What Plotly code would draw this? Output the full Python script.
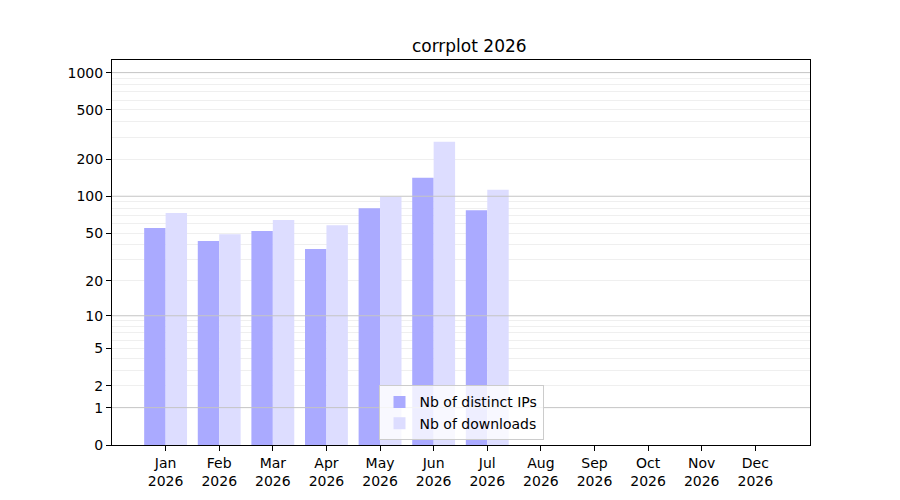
import numpy as np
import plotly.graph_objects as go

months = ["Jan", "Feb", "Mar", "Apr", "May", "Jun", "Jul", "Aug", "Sep", "Oct", "Nov", "Dec"]
year = "2026"
distinct_ips = [55, 43, 52, 37, 80, 141, 77]
downloads = [73, 49, 64, 58, 99, 276, 113]

# y axis is a log(1+x) scale
major_ticks = [0, 1, 2, 5, 10, 20, 50, 100, 200, 500, 1000]
dark_grid = [1, 10, 100, 1000]
light_grid = [2, 3, 4, 5, 6, 7, 8, 9, 20, 30, 40, 50, 60, 70, 80, 90,
              200, 300, 400, 500, 600, 700, 800, 900]


def tr(v):
    return np.log10(1 + np.asarray(v, dtype=float))


fig = go.Figure()
fig.add_trace(go.Bar(
    x=list(range(len(distinct_ips))),
    y=tr(distinct_ips),
    width=0.4, offset=-0.4,
    name="Nb of distinct IPs",
    marker=dict(color="#aaaaff", line=dict(width=0)),
))
fig.add_trace(go.Bar(
    x=list(range(len(downloads))),
    y=tr(downloads),
    width=0.4, offset=0,
    name="Nb of downloads",
    marker=dict(color="#ddddff", line=dict(width=0)),
))

for v in dark_grid:
    fig.add_hline(y=float(tr(v)), line=dict(color="#c4c4c4", width=1), layer="above")

fig.update_layout(
    width=900, height=500,
    margin=dict(l=104, r=98, t=52, b=63),
    paper_bgcolor="white", plot_bgcolor="white",
    font=dict(family="DejaVu Sans", size=14, color="black"),
    title=dict(text="corrplot " + year, x=0.5125, xanchor="center", y=0.924, yanchor="middle",
               font=dict(size=17)),
    barmode="overlay",
    showlegend=True,
    legend=dict(x=0.5, xanchor="center", y=0.012, yanchor="bottom",
                bgcolor="rgba(255,255,255,0.8)", bordercolor="#cccccc", borderwidth=1,
                font=dict(size=14), tracegroupgap=0, itemwidth=30),
    xaxis=dict(
        range=[-1.0, 12.02],
        tickvals=list(range(len(months))),
        ticktext=[m + "<br>" + year for m in months],
        ticks="outside", ticklen=5, tickcolor="black",
        showgrid=False, zeroline=False,
        showline=True, linecolor="black", linewidth=1, mirror=True,
    ),
    yaxis=dict(
        range=[0, 3.102],
        tickvals=tr(major_ticks),
        ticktext=[str(v) for v in major_ticks],
        ticks="outside", ticklen=5, tickcolor="black",
        showgrid=False, zeroline=False,
        showline=True, linecolor="black", linewidth=1, mirror=True,
        layer="above traces",
        minor=dict(tickvals=tr(light_grid), showgrid=True, gridcolor="#efefef",
                   gridwidth=1, ticks=""),
    ),
)

fig.write_html("out.html")
